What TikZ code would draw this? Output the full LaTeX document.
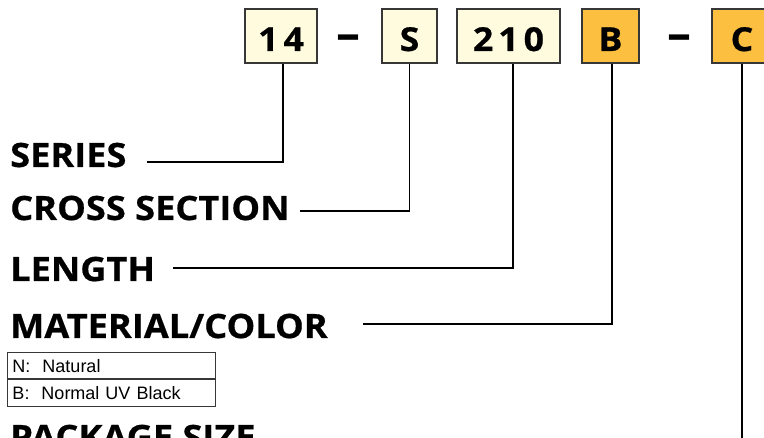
\documentclass[tikz,border=0pt]{standalone}
\usepackage{fontspec}
\setmainfont{Open Sans}
\newfontfamily\widefont[FakeStretch=1.08,FakeBold=0.6]{Open Sans}
\newfontfamily\tblfont{Liberation Sans}
\usetikzlibrary{positioning}
\definecolor{codecream}{RGB}{254,251,222}
\definecolor{codeorange}{RGB}{253,191,64}
\definecolor{boxgray}{RGB}{55,55,55}
\tikzset{
  code/.style={draw=boxgray,line width=1.4pt,minimum height=54pt,inner sep=0pt,
    text height=30pt,text depth=0pt,font=\widefont\bfseries\fontsize{33}{33}\selectfont},
  codeA/.style={code,fill=codecream},
  codeB/.style={code,fill=codeorange},
  sep/.style={inner sep=0pt,text height=30pt,text depth=0pt,font=\bfseries\fontsize{48}{48}\selectfont},
  field/.style={anchor=base west,inner sep=0pt,font=\widefont\bfseries\fontsize{33.5}{33.5}\selectfont},
  leader/.style={line width=1.4pt},
  opt/.style={draw=boxgray,line width=1pt,anchor=north west,text width=198pt,inner xsep=5pt,
    inner ysep=0pt,minimum height=26.5pt,align=left,font=\tblfont\fontsize{18}{18}\selectfont}
}

\begin{document}
\begin{tikzpicture}[x=1pt,y=-1pt]
  \useasboundingbox (0,0) rectangle (764,438);
  \clip (0,0) rectangle (764,438);

  % part number
  \node[codeA,minimum width=72pt] (c14) at (281,36) {1\kern5pt4};
  \node[sep] (d1) at (348,36) {--};
  \node[codeA,minimum width=55pt] (cS) at (409.5,36) {S};
  \node[codeA,minimum width=103pt] (c210) at (508.5,36) {2\kern5pt1\kern5pt0};
  \node[codeB,minimum width=57pt] (cB) at (610.5,36) {B};
  \node[sep] (d2) at (679.5,36) {--};
  \node[codeB,minimum width=60pt] (cC) at (742,36) {C};

  % fields
  \node[field] (series) at (10,167) {SERIES};
  \node[field] (cross) at (10,220) {CROSS SECTION};
  \node[field] (length) at (10,281) {LENGTH};
  \node[field] (material) at (10,338) {MATERIAL/COLOR};
  \node[field] (package) at (10,449) {PACKAGE SIZE};

  \node[opt] (optN) at (7,352) {N:\ \ Natural};
  \node[opt] (optB) at (optN.south west) {B:\ \ Normal UV Black};

  \coordinate (serEnd) at (147,162);
  \coordinate (croEnd) at (300,211);
  \coordinate (lenEnd) at (173,268);
  \coordinate (matEnd) at (363,324);
  \coordinate (pacEnd) at (742,445);

  \draw[leader] ([xshift=2pt]c14.south) |- (serEnd);
  \draw[leader] (cS.south) |- (croEnd);
  \draw[leader] ([xshift=4.5pt]c210.south) |- (lenEnd);
  \draw[leader] ([xshift=1.5pt]cB.south) |- (matEnd);
  \draw[leader] (cC.south) -- (pacEnd);
\end{tikzpicture}
\end{document}
